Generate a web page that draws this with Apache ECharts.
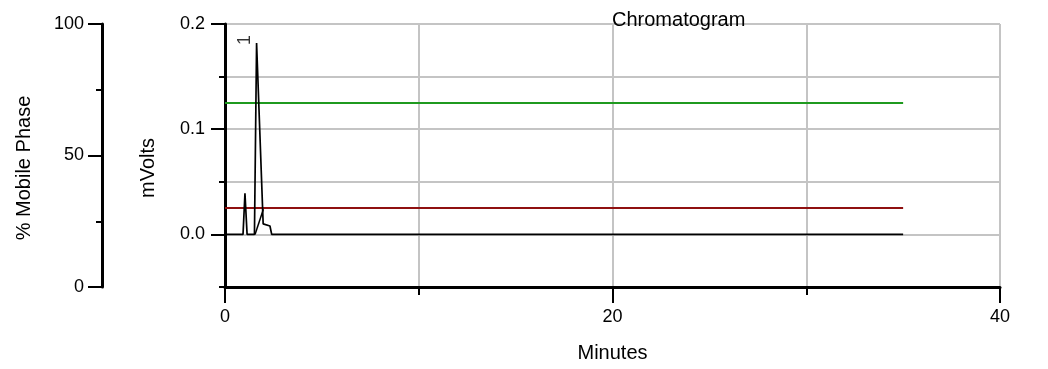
<!DOCTYPE html>
<html>
<head>
<meta charset="utf-8">
<script src="https://cdn.jsdelivr.net/npm/echarts@6/dist/echarts.min.js"></script>
<style>
html,body{margin:0;padding:0;background:#fff;}
#chart{width:1048px;height:369px;}
</style>
</head>
<body>
<div id="chart"></div>
<script>
// ---- data ----
const chromTime   = [0, 0.93, 1.03, 1.14, 1.52, 1.63, 1.97, 2.32, 2.41, 35];
const chromMV     = [0, 0,    0.039, 0,   0,    0.182, 0.010, 0.008, 0,  0];
const peakBaseTime = [1.55, 1.98];
const peakBaseMV   = [0, 0.024];
const peakNames   = ['1'];
const peakTimes   = [1.63];
const peakMV      = [0.182];
const gradTime    = [0, 35];
const gradGreen   = [70, 70];
const gradRed     = [30, 30];
const xMajorTicks = [0, 20, 40];
const xMinorTicks = [10, 30];
const mvMajorTicks = [0, 0.1, 0.2];
const mvMinorTicks = [-0.05, 0.05, 0.15];
const mpMajorTicks = [0, 50, 100];
const mpMinorTicks = [25, 75];

const FONT = 'Liberation Sans, Arial, sans-serif';
const GRID = '#c4c4c4';

const chart = echarts.init(document.getElementById('chart'), null, {renderer: 'canvas'});

function zip(a, b) { return a.map((v, i) => [v, b[i]]); }

const option = {
  animation: false,
  backgroundColor: '#fff',
  textStyle: {fontFamily: FONT},
  title: {
    text: 'Chromatogram',
    left: 607, top: 5,
    textStyle: {fontFamily: FONT, fontSize: 20, fontWeight: 'normal', color: '#000'}
  },
  grid: {left: 225, right: 48, top: 24, bottom: 82, containLabel: false, outerBoundsMode: 'none'},
  xAxis: [
    {
      type: 'value', position: 'bottom', min: 0, max: 40, interval: 10,
      name: 'Minutes', nameLocation: 'middle', nameGap: 56,
      nameTextStyle: {fontFamily: FONT, fontSize: 20, color: '#000'},
      axisLine: {show: true, onZero: false, lineStyle: {color: '#000', width: 3}},
      axisTick: {show: true, length: 16, customValues: xMajorTicks, lineStyle: {color: '#000', width: 2}},
      axisLabel: {show: true, customValues: xMajorTicks, margin: 21, fontFamily: FONT, fontSize: 18, color: '#000'},
      splitLine: {show: true, lineStyle: {color: GRID, width: 2}}
    },
    {
      type: 'value', position: 'bottom', min: 0, max: 40, interval: 10,
      axisLine: {show: false, onZero: false},
      axisTick: {show: true, length: 8, customValues: xMinorTicks, lineStyle: {color: '#000', width: 2}},
      axisLabel: {show: false},
      splitLine: {show: true, lineStyle: {color: GRID, width: 2}}
    }
  ],
  yAxis: [
    {
      type: 'value', position: 'left', offset: 0, min: -0.05, max: 0.2, interval: 0.05,
      name: 'mVolts', nameLocation: 'middle', nameGap: 67, nameRotate: 90,
      nameTextStyle: {fontFamily: FONT, fontSize: 20, color: '#000', padding: [0, 25, 0, 0]},
      axisLine: {show: true, onZero: false, lineStyle: {color: '#000', width: 3}},
      axisTick: {show: true, length: 14, customValues: mvMajorTicks, lineStyle: {color: '#000', width: 2}},
      axisLabel: {show: true, customValues: mvMajorTicks, margin: 20, fontFamily: FONT, fontSize: 18, color: '#000',
                  formatter: v => Number(v).toFixed(1)},
      splitLine: {show: true, lineStyle: {color: GRID, width: 2}}
    },
    {
      type: 'value', position: 'left', offset: 0, min: -0.05, max: 0.2, interval: 0.05,
      axisLine: {show: false, onZero: false},
      axisTick: {show: true, length: 6, customValues: mvMinorTicks, lineStyle: {color: '#000', width: 2}},
      axisLabel: {show: false},
      splitLine: {show: true, lineStyle: {color: GRID, width: 2}}
    },
    {
      type: 'value', position: 'left', offset: 123, min: 0, max: 100, interval: 25,
      name: '% Mobile Phase', nameLocation: 'middle', nameGap: 68, nameRotate: 90,
      nameTextStyle: {fontFamily: FONT, fontSize: 20, color: '#000', padding: [0, 25, 0, 0]},
      axisLine: {show: true, onZero: false, lineStyle: {color: '#000', width: 3}},
      axisTick: {show: true, length: 14, customValues: mpMajorTicks, lineStyle: {color: '#000', width: 2}},
      axisLabel: {show: true, customValues: mpMajorTicks, margin: 18, fontFamily: FONT, fontSize: 18, color: '#000'},
      splitLine: {show: false}
    },
    {
      type: 'value', position: 'left', offset: 123, min: 0, max: 100, interval: 25,
      axisLine: {show: false, onZero: false},
      axisTick: {show: true, length: 6, customValues: mpMinorTicks, lineStyle: {color: '#000', width: 2}},
      axisLabel: {show: false},
      splitLine: {show: false}
    }
  ],
  series: [
    {
      name: 'Gradient B', type: 'line', xAxisIndex: 0, yAxisIndex: 2,
      data: zip(gradTime, gradGreen), showSymbol: false, symbol: 'none',
      lineStyle: {color: '#1f9a1f', width: 2}, z: 3
    },
    {
      name: 'Gradient A', type: 'line', xAxisIndex: 0, yAxisIndex: 2,
      data: zip(gradTime, gradRed), showSymbol: false, symbol: 'none',
      lineStyle: {color: '#8f1010', width: 2}, z: 3
    },
    {
      name: 'Peak baseline', type: 'line', xAxisIndex: 0, yAxisIndex: 0,
      data: zip(peakBaseTime, peakBaseMV), showSymbol: false, symbol: 'none',
      lineStyle: {color: '#000', width: 1.5}, z: 4
    },
    {
      name: 'Detector', type: 'line', xAxisIndex: 0, yAxisIndex: 0,
      data: zip(chromTime, chromMV), showSymbol: false, symbol: 'none',
      lineStyle: {color: '#000', width: 1.7}, z: 5
    },
    {
      name: 'Peak labels', type: 'scatter', xAxisIndex: 0, yAxisIndex: 0,
      data: peakTimes.map((t, i) => ({value: [t, peakMV[i]], name: peakNames[i]})),
      symbolSize: 0, z: 6,
      label: {show: true, formatter: p => p.name, rotate: 90, position: 'inside', offset: [3, -12],
              fontFamily: FONT, fontSize: 18, color: '#000'}
    }
  ]
};
chart.setOption(option);
</script>
</body>
</html>
